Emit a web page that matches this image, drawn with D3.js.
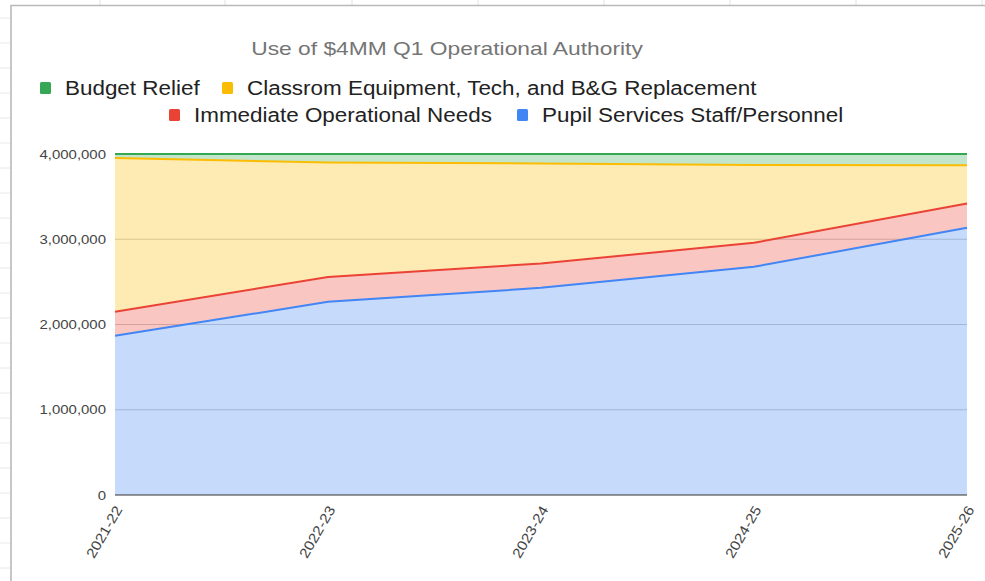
<!DOCTYPE html>
<html>
<head>
<meta charset="utf-8">
<script src="https://cdn.jsdelivr.net/npm/d3@7"></script>
<style>
  body { margin: 0; background: #fff; }
  svg { display: block; font-family: Arial, "Liberation Sans", sans-serif; }
</style>
</head>
<body>
<div id="chart"></div>
<script>
/**
 * Chart data.
 */
var YEARS = ["2021-22", "2022-23", "2023-24", "2024-25", "2025-26"];
var PUPIL = [1867000, 2266000, 2430000, 2677000, 3134000];
var IMMEDIATE = [282000, 292000, 286000, 281000, 286000];
var CLASSROOM = [1805000, 1342000, 1173000, 914000, 449000];
var BUDGET = [46000, 100000, 111000, 128000, 131000];
var Y_TICKS = [0, 1000000, 2000000, 3000000, 4000000];

var SERIES = [
    {key: "pupil", name: "Pupil Services Staff/Personnel", values: PUPIL, color: "#4285F4"},
    {key: "immediate", name: "Immediate Operational Needs", values: IMMEDIATE, color: "#EA4335"},
    {key: "classroom", name: "Classrom Equipment, Tech, and B&G Replacement", values: CLASSROOM, color: "#FBBC04"},
    {key: "budget", name: "Budget Relief", values: BUDGET, color: "#34A853"}
];

var WIDTH = 985, HEIGHT = 581;
var PLOT = {left: 115, right: 967, top: 154, bottom: 495};
// the screenshot is a little stretched sideways, so text is too
var STRETCH = 1.15;

var SVG = d3.select("#chart").append("svg")
    .attr("width", WIDTH)
    .attr("height", HEIGHT);

/**
 * Stretch a text selection horizontally to match the screenshot.
 */
function stretch(sel, k) {
    sel.each(function () {
        var len = this.getComputedTextLength();
        d3.select(this).attr("textLength", len * k).attr("lengthAdjust", "spacingAndGlyphs");
    });
}

/**
 * Faint spreadsheet grid behind the chart frame.
 */
var LAYER_SHEET = SVG.append("g");
[100, 225, 352, 478, 604, 730, 856, 982].forEach(function (x) {
    LAYER_SHEET.append("line").attr("x1", x).attr("x2", x).attr("y1", 0).attr("y2", 5)
        .attr("stroke", "#e2e2e2");
});
for (var ry = 18; ry < HEIGHT; ry += 25) {
    LAYER_SHEET.append("line").attr("x1", 0).attr("x2", 10).attr("y1", ry).attr("y2", ry)
        .attr("stroke", "#e8e8e8");
}
LAYER_SHEET.append("path").attr("d", "M11," + HEIGHT + "V5.5H" + WIDTH)
    .attr("fill", "none").attr("stroke", "#b9b9b9").attr("stroke-width", 1.6);

/**
 * Title and legend.
 */
SVG.append("text").attr("x", 447).attr("y", 55).attr("text-anchor", "middle")
    .attr("font-size", 19).attr("fill", "#757575")
    .text("Use of $4MM Q1 Operational Authority")
    .call(stretch, 1.2);

var LEGEND_ROWS = [
    [{s: SERIES[3], x: 40}, {s: SERIES[2], x: 222}],
    [{s: SERIES[1], x: 169}, {s: SERIES[0], x: 517}]
];
LEGEND_ROWS.forEach(function (row, r) {
    var y = 82 + r * 27;
    row.forEach(function (item) {
        SVG.append("rect").attr("x", item.x).attr("y", y).attr("width", 11).attr("height", 12)
            .attr("rx", 1.5).attr("fill", item.s.color);
        SVG.append("text").attr("x", item.x + 25).attr("y", y + 13)
            .attr("font-size", 19.5).attr("fill", "#222").text(item.s.name)
            .call(stretch, STRETCH);
    });
});

/**
 * Scales.
 */
var x = d3.scalePoint().domain(YEARS).range([PLOT.left, PLOT.right]);
var y = d3.scaleLinear().domain([0, 4000000]).range([PLOT.bottom, PLOT.top]);

var rows = YEARS.map(function (yr, i) {
    var row = {year: yr};
    SERIES.forEach(function (s) { row[s.key] = s.values[i]; });
    return row;
});
var stacked = d3.stack().keys(SERIES.map(function (s) { return s.key; }))(rows);

/**
 * Gridlines and y axis.
 */
var gridG = SVG.append("g");
Y_TICKS.slice(1).forEach(function (t) {
    gridG.append("line").attr("x1", PLOT.left).attr("x2", PLOT.right)
        .attr("y1", y(t)).attr("y2", y(t)).attr("stroke", "#cccccc").attr("stroke-width", 1);
});

var yAxis = SVG.append("g").attr("transform", "translate(" + PLOT.left + ",0)")
    .call(d3.axisLeft(y).tickValues(Y_TICKS).tickSize(0).tickPadding(9)
        .tickFormat(d3.format(",")));
yAxis.select(".domain").remove();
yAxis.selectAll("text").attr("font-size", 13).attr("fill", "#444")
    .attr("font-family", "Arial, 'Liberation Sans', sans-serif")
    .call(stretch, STRETCH);

/**
 * Stacked areas and their top lines.
 */
var area = d3.area().x(function (d) { return x(d.data.year); })
    .y0(function (d) { return y(d[0]); }).y1(function (d) { return y(d[1]); });
var line = d3.line().x(function (d) { return x(d.data.year); })
    .y(function (d) { return y(d[1]); });

SVG.append("g").selectAll("path").data(stacked).join("path")
    .attr("d", area)
    .attr("fill", function (d, i) { return SERIES[i].color; })
    .attr("fill-opacity", 0.3);

SVG.append("g").selectAll("path").data(stacked).join("path")
    .attr("d", line)
    .attr("fill", "none")
    .attr("stroke", function (d, i) { return SERIES[i].color; })
    .attr("stroke-width", 2);

/**
 * Baseline and x axis.
 */
SVG.append("line").attr("x1", PLOT.left).attr("x2", PLOT.right)
    .attr("y1", y(0)).attr("y2", y(0)).attr("stroke", "#333").attr("stroke-width", 1.2);

var xAxis = SVG.append("g").attr("transform", "translate(0," + PLOT.bottom + ")")
    .call(d3.axisBottom(x).tickSize(0).tickPadding(0));
xAxis.select(".domain").remove();
xAxis.selectAll("text")
    .attr("font-size", 14).attr("fill", "#444")
    .attr("font-family", "Arial, 'Liberation Sans', sans-serif")
    .attr("text-anchor", "end")
    .attr("dy", "0.35em")
    .attr("transform", "translate(3,12) rotate(-60)")
    .call(stretch, 1.12);
</script>
</body>
</html>
